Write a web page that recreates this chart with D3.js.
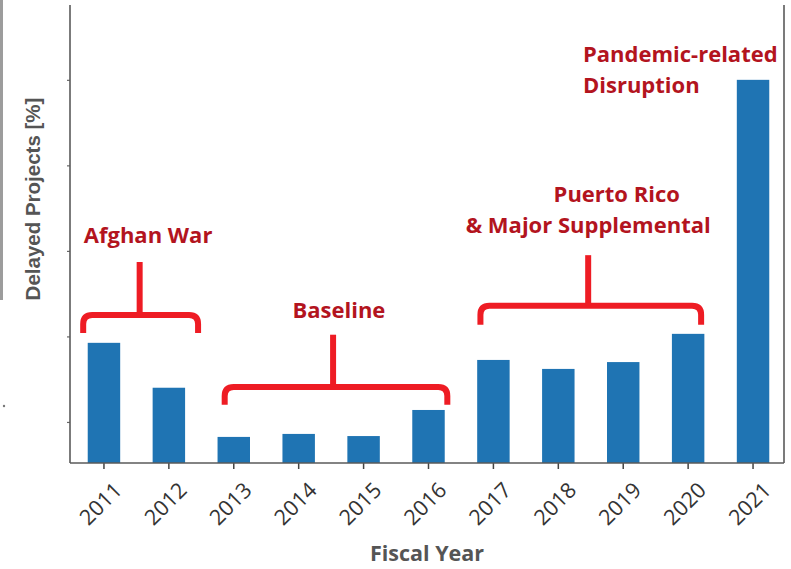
<!DOCTYPE html>
<html>
<head>
<meta charset="utf-8">
<script src="https://cdn.jsdelivr.net/npm/d3@7"></script>
<style>
  html, body { margin: 0; padding: 0; background: #fff; }
  svg { display: block; }
</style>
</head>
<body>
<svg id="chart" width="791" height="569"></svg>
<script>
// Share of delayed projects per fiscal year
const years = ["2011", "2012", "2013", "2014", "2015", "2016", "2017", "2018", "2019", "2020", "2021"];
const delayedPct = [3.85, 2.8, 1.65, 1.72, 1.67, 2.28, 3.45, 3.24, 3.40, 4.06, 10.0];
const yTicks = [2, 4, 6, 8, 10];

// Bracket annotations: span given in year-index units, heights in % units
const bracketSpans = [
  { from: -0.32, to: 1.45, stem: 0.55, level: 4.50, foot: 4.08, top: 5.74 },
  { from: 1.86, to: 5.29, stem: 3.53, level: 2.82, foot: 2.40, top: 4.04 },
  { from: 5.80, to: 9.20, stem: 7.46, level: 4.72, foot: 4.27, top: 5.90 }
];
const noteLines = [
  { text: "Afghan War", at: 0.68, v: 6.19, anchor: "middle" },
  { text: "Baseline", at: 3.62, v: 4.43, anchor: "middle" },
  { text: "Puerto Rico", at: 7.90, v: 7.15, anchor: "middle" },
  { text: "& Major Supplemental", at: 7.46, v: 6.42, anchor: "middle" },
  { text: "Pandemic-related", at: 7.38, v: 10.42, anchor: "start" },
  { text: "Disruption", at: 7.38, v: 9.70, anchor: "start" }
];

const svg = d3.select("#chart");
const plot = { left: 70, right: 784, top: 5, bottom: 463 };

const x = d3.scaleBand()
  .domain(years)
  .range([71.5, 785.5])
  .paddingInner(0.5)
  .paddingOuter(0.25);

const y = d3.scaleLinear()
  .domain([1.04, 11.75])
  .range([plot.bottom, plot.top]);

// year index -> bar centre
const xi = d3.scaleLinear()
  .domain([0, years.length - 1])
  .range([x(years[0]) + x.bandwidth() / 2, x(years[years.length - 1]) + x.bandwidth() / 2]);

// thin rule at the left margin
svg.append("rect").attr("x", 0).attr("y", 0).attr("width", 3).attr("height", 300).attr("fill", "#9c9c9c");
svg.append("circle").attr("cx", 4).attr("cy", 406).attr("r", 1.2).attr("fill", "#777");

// bars
svg.append("g")
  .selectAll("rect")
  .data(years.map((yr, i) => ({ yr, v: delayedPct[i] })))
  .join("rect")
  .attr("x", d => x(d.yr))
  .attr("width", x.bandwidth())
  .attr("y", d => y(d.v))
  .attr("height", d => y.range()[0] - y(d.v))
  .attr("fill", "#1f74b3");

// y axis ticks (unlabelled)
const yAxis = svg.append("g")
  .attr("transform", `translate(${plot.left},0)`)
  .call(d3.axisLeft(y).tickValues(yTicks).tickFormat("").tickSize(3));
yAxis.select(".domain").remove();
yAxis.selectAll(".tick line").attr("stroke", "#666").attr("stroke-width", 1.2);

// x axis
const xAxis = svg.append("g")
  .attr("transform", `translate(0,${plot.bottom})`)
  .call(d3.axisBottom(x).tickSize(6).tickPadding(0));
xAxis.select(".domain").remove();
xAxis.selectAll(".tick line").attr("stroke", "#444").attr("stroke-width", 1.5);
xAxis.selectAll(".tick text")
  .attr("font-family", "'Open Sans', sans-serif")
  .attr("font-size", 21.5)
  .attr("fill", "#333")
  .attr("text-anchor", "middle")
  .attr("dominant-baseline", "central")
  .attr("y", 0).attr("dy", 0)
  .attr("transform", "translate(-4,40) rotate(-45)");

// spines
const spines = svg.append("g").attr("stroke", "#5a5a5a").attr("stroke-width", 1.6).attr("fill", "none");
spines.append("line").attr("x1", plot.left).attr("x2", plot.left).attr("y1", plot.top).attr("y2", plot.bottom);
spines.append("line").attr("x1", plot.right).attr("x2", plot.right).attr("y1", plot.top).attr("y2", plot.bottom);
spines.append("line").attr("x1", plot.left).attr("x2", plot.right).attr("y1", plot.bottom).attr("y2", plot.bottom);

// axis titles
svg.append("text")
  .attr("transform", `translate(40,${(95 + 303) / 2}) rotate(-90)`)
  .attr("text-anchor", "middle")
  .attr("font-family", "'Liberation Sans', Arial, sans-serif")
  .attr("font-weight", "bold")
  .attr("font-size", 20.5)
  .attr("fill", "#555")
  .text("Delayed Projects [%]");

svg.append("text")
  .attr("x", (plot.left + plot.right) / 2)
  .attr("y", 561)
  .attr("text-anchor", "middle")
  .attr("font-family", "'Open Sans', sans-serif")
  .attr("font-weight", "bold")
  .attr("font-size", 21.5)
  .attr("fill", "#555")
  .text("Fiscal Year");

// brackets
const r = 9;
svg.append("g")
  .attr("fill", "none")
  .attr("stroke", "#ee1c24")
  .attr("stroke-width", 6)
  .attr("stroke-linejoin", "round")
  .selectAll("g")
  .data(bracketSpans)
  .join("g")
  .each(function (b) {
    const g = d3.select(this);
    const L = xi(b.from), R = xi(b.to), H = y(b.level), F = y(b.foot), S = xi(b.stem), T = y(b.top);
    g.append("path").attr("d",
      `M${L},${F} L${L},${H + r} Q${L},${H} ${L + r},${H} L${R - r},${H} Q${R},${H} ${R},${H + r} L${R},${F}`);
    g.append("path").attr("d", `M${S},${T} L${S},${H}`);
  });

// annotation text
svg.append("g")
  .selectAll("text")
  .data(noteLines)
  .join("text")
  .attr("x", d => xi(d.at))
  .attr("y", d => y(d.v))
  .attr("text-anchor", d => d.anchor)
  .attr("font-family", "'Open Sans', sans-serif")
  .attr("font-weight", "bold")
  .attr("font-size", 22)
  .attr("fill", "#b3141e")
  .text(d => d.text);
</script>
</body>
</html>
